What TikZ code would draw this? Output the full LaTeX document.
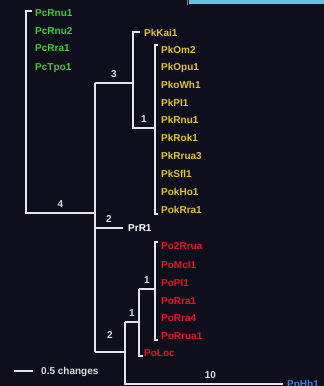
\documentclass[tikz,border=0pt]{standalone}
\usepackage{fontspec}
\setmainfont{Liberation Sans}
\definecolor{bgnavy}{HTML}{0E0E1C}
\definecolor{barcyan}{HTML}{5CC6DE}
\definecolor{linegray}{HTML}{E6E6E6}
\definecolor{numgray}{HTML}{DCDCDC}
\definecolor{pcgreen}{HTML}{40CE2C}
\definecolor{pkgold}{HTML}{E6C234}
\definecolor{pored}{HTML}{E8161E}
\definecolor{ppblue}{HTML}{3C80DA}
\tikzstyle{branch} = [draw=linegray, line width=1.6pt]
\tikzstyle{taxon} = [anchor=west, inner sep=0pt, text height=7.2pt, text depth=0pt,
font=\bfseries\fontsize{10}{12}\selectfont]
\tikzstyle{support} = [above=5pt, inner sep=0pt, text=numgray, text height=7.2pt, text depth=0pt,
font=\bfseries\fontsize{10}{12}\selectfont]

\begin{document}
\begin{tikzpicture}[x=1pt, y=-1pt]
    \fill[bgnavy] (0,0) rectangle (324,386);
    \useasboundingbox (0,0) rectangle (324,386);
    \fill[barcyan] (189,0) rectangle (324,3.5);
    \draw[gray, line width=0.8pt] (187.5,0) -- (187.5,4.5);

    % Taxa
    \node[taxon, text=pcgreen] (PcRnu1) at (35, 13) {PcRnu1};
    \node[taxon, text=pcgreen] (PcRnu2) at (35, 31) {PcRnu2};
    \node[taxon, text=pcgreen] (PcRra1) at (35, 48) {PcRra1};
    \node[taxon, text=pcgreen] (PcTpo1) at (35, 67) {PcTpo1};

    \node[taxon, text=pkgold] (PkKai1)  at (144, 33) {PkKai1};
    \node[taxon, text=pkgold] (PkOm2)   at (161, 50) {PkOm2};
    \node[taxon, text=pkgold] (PkOpu1)  at (161, 67) {PkOpu1};
    \node[taxon, text=pkgold] (PkoWh1)  at (161, 85) {PkoWh1};
    \node[taxon, text=pkgold] (PkPl1)   at (161,103) {PkPl1};
    \node[taxon, text=pkgold] (PkRnu1)  at (161,120) {PkRnu1};
    \node[taxon, text=pkgold] (PkRok1)  at (161,138) {PkRok1};
    \node[taxon, text=pkgold] (PkRrua3) at (161,156) {PkRrua3};
    \node[taxon, text=pkgold] (PkSfl1)  at (161,174) {PkSfl1};
    \node[taxon, text=pkgold] (PokHo1)  at (161,192) {PokHo1};
    \node[taxon, text=pkgold] (PokRra1) at (161,210) {PokRra1};

    \node[taxon, text=white] (PrR1) at (128,228) {PrR1};

    \node[taxon, text=pored] (Po2Rrua) at (161,246) {Po2Rrua};
    \node[taxon, text=pored] (PoMcl1)  at (161,265) {PoMcl1};
    \node[taxon, text=pored] (PoPl1)   at (161,283) {PoPl1};
    \node[taxon, text=pored] (PoRra1)  at (161,301) {PoRra1};
    \node[taxon, text=pored] (PoRra4)  at (161,318) {PoRra4};
    \node[taxon, text=pored] (PoRrua1) at (161,336) {PoRrua1};
    \node[taxon, text=pored] (PoLoc)   at (144,353) {PoLoc};

    \node[taxon, text=ppblue] (PpHb1) at (287,384) {PpHb1};

    \node[taxon, text=numgray] (scale) at (41,371) {0.5 changes};

    % Inner nodes
    \coordinate (pcT)  at (26, 11);
    \coordinate (pcB)  at (26,213);
    \coordinate (rT)   at (95, 83);
    \coordinate (rB)   at (95,352);
    \coordinate (pkT)  at (133, 32);
    \coordinate (pkB)  at (133,128);
    \coordinate (pkiT) at (155, 45);
    \coordinate (pkiB) at (155,214);
    \coordinate (ppT)  at (125,322);
    \coordinate (ppB)  at (125,384);
    \coordinate (pocT) at (139,289);
    \coordinate (pocB) at (139,356);
    \coordinate (poT)  at (155,242);
    \coordinate (poB)  at (155,340);
    \coordinate (sbar) at (14,371);

    % Branches
    \draw[branch] (PcRnu1.west |- pcT) ++(-3,0) -- (pcT) -- (pcB) -- node[support]{4} (pcB -| rT);
    \draw[branch] (rT) -- (rB);
    \draw[branch] (rT) -- node[support]{3} (rT -| pkT);
    \draw[branch] (PkKai1.west |- pkT) ++(-4,0) -- (pkT) -- (pkB) -- node[support]{1} (pkB -| pkiT);
    \draw[branch] (PkOm2.west |- pkiT) ++(-3,0) -- (pkiT) -- (pkiB) -- ++(3,0);
    \draw[branch] (rT |- PrR1) -- node[support]{2} ([xshift=-5pt]PrR1.west);
    \draw[branch] (rB) -- node[support, above=8pt]{2} (rB -| ppT);
    \draw[branch] (ppT) -- (ppB) -- node[support, pos=0.54]{10} ([xshift=-4pt]PpHb1.west);
    \draw[branch] (ppT) -- node[support]{1} (ppT -| pocT);
    \draw[branch] (pocT) -- (pocB) -- ++(4,0);
    \draw[branch] (pocT) -- node[support]{1} (pocT -| poT);
    \draw[branch] (poT) ++(3,0) -- (poT) -- (poB) -- ++(3,0);

    % Scale
    \draw[branch, shorten >=8pt] (sbar) -- (scale.west);

\end{tikzpicture}
\end{document}
